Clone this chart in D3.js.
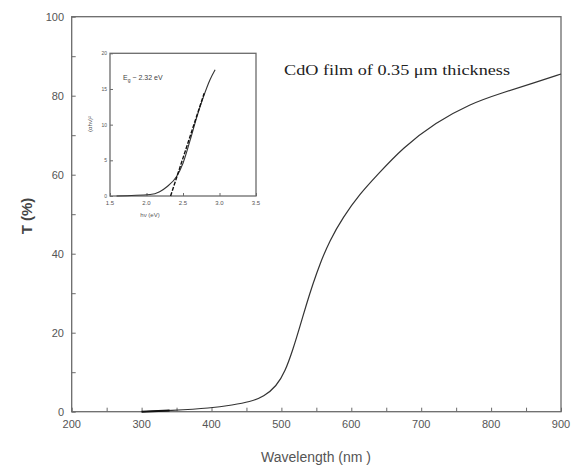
<!DOCTYPE html>
<html>
<head>
<meta charset="utf-8">
<script src="https://cdn.jsdelivr.net/npm/d3@7"></script>
<style>
  body { margin: 0; background: #fff; }
</style>
</head>
<body>
<div id="vis"></div>
<script>
// main transmission curve
let wavelength = [300, 340, 400, 430, 455, 475, 493, 505, 517, 526, 536, 545, 555, 569, 588, 612, 636, 674, 721, 769, 817, 864, 900];
let transmission = [0, 0.3, 0.9, 1.7, 2.5, 3.8, 6.5, 10, 16, 21.3, 27.3, 32.3, 37.4, 43.3, 49.2, 55.1, 59.7, 66.9, 73.2, 77.9, 80.8, 83.4, 85.5];

// inset: (alpha h nu)^2 vs photon energy
let photonEnergy = [1.59, 2.05, 2.18, 2.28, 2.41, 2.50, 2.60, 2.69, 2.78, 2.87, 2.94];
let alphaSq = [0, 0.2, 0.6, 1.3, 2.7, 4.6, 7.9, 11.1, 13.9, 16.3, 17.7];
let fitEnergy = [2.33, 2.79];
let fitAlpha = [0, 14.4];

let xTicks = [200, 300, 400, 500, 600, 700, 800, 900];
let yTicks = [0, 20, 40, 60, 80, 100];
let insetXTicks = [1.5, 2.0, 2.5, 3.0, 3.5];
let insetYTicks = [0, 5, 10, 15, 20];

let W = 573, H = 469;
let axisColor = '#6a6a6a', labelColor = '#555';
let sans = 'Arial, "Liberation Sans", sans-serif';

let svg = d3.select('#vis')
  .append('svg')
  .attr('width', W)
  .attr('height', H)
  .style('background-color', 'white')
  .style('font-family', sans);

let x = d3.scaleLinear().domain([200, 900]).range([71.7, 561]);
let y = d3.scaleLinear().domain([0, 100]).range([411.7, 16.7]);

// frame
svg.append('rect')
  .attr('x', x(200)).attr('y', y(100))
  .attr('width', x(900) - x(200)).attr('height', y(0) - y(100))
  .attr('fill', 'none').attr('stroke', axisColor).attr('stroke-width', 1.3);

// bottom axis, ticks pointing inward
let xAxis = svg.append('g')
  .attr('transform', `translate(0,${y(0)})`)
  .call(d3.axisBottom(x).tickValues(d3.range(200, 901, 50)).tickSize(-4).tickFormat(''));
xAxis.select('.domain').remove();
xAxis.selectAll('line').attr('stroke', axisColor);

svg.selectAll('.xlab')
  .data(xTicks)
  .enter().append('text')
  .attr('x', d => x(d))
  .attr('y', 428)
  .attr('text-anchor', 'middle')
  .attr('font-size', 11)
  .attr('fill', labelColor)
  .text(d => d);

let yAxis = svg.append('g')
  .attr('transform', `translate(${x(200)},0)`)
  .call(d3.axisLeft(y).tickValues(d3.range(0, 101, 10)).tickSize(-4).tickFormat(''));
yAxis.select('.domain').remove();
yAxis.selectAll('line').attr('stroke', axisColor);

svg.selectAll('.ylab')
  .data(yTicks)
  .enter().append('text')
  .attr('x', 64)
  .attr('y', d => y(d) + 4)
  .attr('text-anchor', 'end')
  .attr('font-size', 11)
  .attr('fill', labelColor)
  .text(d => d);

// axis titles
svg.append('text')
  .attr('x', 316).attr('y', 462)
  .attr('text-anchor', 'middle')
  .attr('font-size', 14)
  .attr('fill', labelColor)
  .text('Wavelength (nm )');

svg.append('text')
  .attr('transform', 'translate(32,216) rotate(-90)')
  .attr('text-anchor', 'middle')
  .attr('font-size', 15)
  .attr('font-weight', 'bold')
  .attr('fill', '#444')
  .text('T (%)');

// main curve
let mainData = wavelength.map((w, i) => [w, transmission[i]]);
svg.append('path')
  .datum(mainData)
  .attr('fill', 'none')
  .attr('stroke', '#333')
  .attr('stroke-width', 1.2)
  .attr('d', d3.line().x(d => x(d[0])).y(d => y(d[1])).curve(d3.curveBasis));

// darker start at the bottom
svg.append('path')
  .datum(mainData.slice(0, 2))
  .attr('fill', 'none')
  .attr('stroke', '#111')
  .attr('stroke-width', 2)
  .attr('d', d3.line().x(d => x(d[0])).y(d => y(d[1])));

svg.append('text')
  .attr('x', 284).attr('y', 75)
  .style('font-family', '"Liberation Serif", "Times New Roman", serif')
  .attr('font-size', 15)
  .attr('fill', '#222')
  .attr('textLength', 226)
  .attr('lengthAdjust', 'spacingAndGlyphs')
  .text('CdO film of 0.35 \u03bcm thickness');

// ---- inset ----
let ix = d3.scaleLinear().domain([1.5, 3.5]).range([110, 256]);
let iy = d3.scaleLinear().domain([0, 20]).range([196, 53.3]);

svg.append('rect')
  .attr('x', ix(1.5)).attr('y', iy(20))
  .attr('width', ix(3.5) - ix(1.5)).attr('height', iy(0) - iy(20))
  .attr('fill', 'none').attr('stroke', axisColor).attr('stroke-width', 1.3);

let ixAxis = svg.append('g')
  .attr('transform', `translate(0,${iy(0)})`)
  .call(d3.axisBottom(ix).tickValues(insetXTicks).tickSize(-3).tickFormat(''));
ixAxis.select('.domain').remove();
ixAxis.selectAll('line').attr('stroke', axisColor);

let iyAxis = svg.append('g')
  .attr('transform', `translate(${ix(1.5)},0)`)
  .call(d3.axisLeft(iy).tickValues(insetYTicks).tickSize(-3).tickFormat(''));
iyAxis.select('.domain').remove();
iyAxis.selectAll('line').attr('stroke', axisColor);

svg.selectAll('.ixlab')
  .data(insetXTicks)
  .enter().append('text')
  .attr('x', d => ix(d))
  .attr('y', 205)
  .attr('text-anchor', 'middle')
  .attr('font-size', 6)
  .attr('fill', labelColor)
  .text(d => d.toFixed(1));

svg.selectAll('.iylab')
  .data(insetYTicks)
  .enter().append('text')
  .attr('x', 107)
  .attr('y', d => iy(d) + 2)
  .attr('text-anchor', 'end')
  .attr('font-size', 5)
  .attr('fill', labelColor)
  .text(d => d);

svg.append('text')
  .attr('x', 150).attr('y', 217)
  .attr('text-anchor', 'middle')
  .attr('font-size', 6)
  .attr('fill', labelColor)
  .text('h\u03bd (eV)');

svg.append('text')
  .attr('transform', 'translate(92,124) rotate(-90)')
  .attr('text-anchor', 'middle')
  .attr('font-size', 6)
  .attr('fill', labelColor)
  .text('(\u03b1h\u03bd)\u00b2');

svg.append('text')
  .attr('x', 123).attr('y', 80)
  .attr('font-size', 7)
  .attr('fill', '#444')
  .html('E<tspan font-size="5" dy="2">g</tspan><tspan dy="-2"> ~ 2.32 eV</tspan>');

let insetData = photonEnergy.map((e, i) => [e, alphaSq[i]]);
svg.append('path')
  .datum(insetData)
  .attr('fill', 'none')
  .attr('stroke', '#333')
  .attr('stroke-width', 1.1)
  .attr('d', d3.line().x(d => ix(d[0])).y(d => iy(d[1])).curve(d3.curveMonotoneX));

svg.append('path')
  .datum(fitEnergy.map((e, i) => [e, fitAlpha[i]]))
  .attr('fill', 'none')
  .attr('stroke', '#111')
  .attr('stroke-width', 1.4)
  .attr('stroke-dasharray', '4,1.5')
  .attr('d', d3.line().x(d => ix(d[0])).y(d => iy(d[1])));
</script>
</body>
</html>
